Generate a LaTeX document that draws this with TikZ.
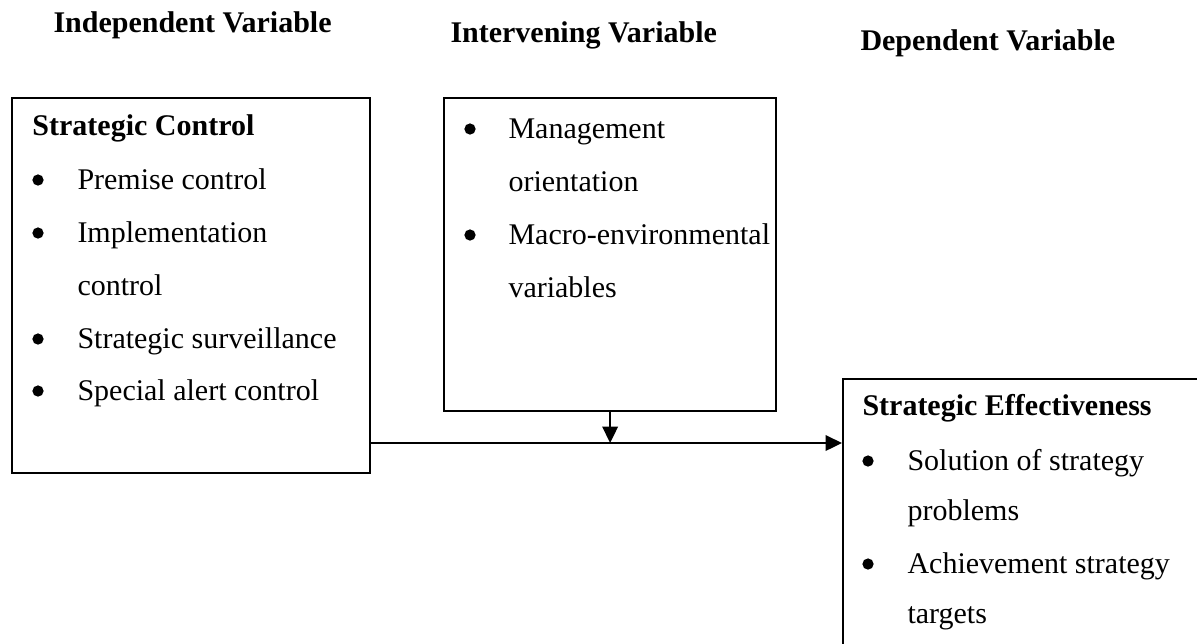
\documentclass[tikz,border=0pt]{standalone}
\usepackage{fontspec}
\setmainfont{Liberation Serif}
\usetikzlibrary{arrows.meta}
\begin{document}
\begin{tikzpicture}[x=0.4pt,y=-0.4pt,
  box/.style={draw,line width=0.9pt,rectangle,inner sep=0pt,anchor=north west},
  txt/.style={anchor=base west,inner sep=0pt,font=\fontsize{12}{14}\selectfont},
  head/.style={anchor=base west,inner sep=0pt,font=\fontsize{12}{14}\selectfont\bfseries},
  bul/.style={circle,fill,inner sep=0pt,minimum size=4.5pt},
  arr/.style={line width=0.9pt,-{Triangle[length=6.6pt,width=6.2pt]}}]
\useasboundingbox (0,0) rectangle (1197,643);
\clip (0,0) rectangle (1197,643);
% headers
\node[head] (h1) at (53,32) {Independent Variable};
\node[head] (h2) at (450,42) {Intervening Variable};
\node[head] (h3) at (860,50) {Dependent Variable};
% boxes
\node[box,minimum width=143.2pt,minimum height=150pt] (lbox) at (11,97) {};
\node[box,minimum width=132.8pt,minimum height=125.2pt] (mbox) at (443,97) {};
\node[box,minimum width=160pt,minimum height=120pt] (rbox) at (842,378) {};
% left box text
\node[head] (l0) at (32,135) {Strategic Control};
\node[bul] (lb1) at (38,180) {};
\node[txt] (l1) at (77,189) {Premise control};
\node[bul] (lb2) at (38,233) {};
\node[txt] (l2) at (77,242) {Implementation};
\node[txt] (l3) at (77,295) {control};
\node[bul] (lb3) at (38,339) {};
\node[txt] (l4) at (77,348) {Strategic surveillance};
\node[bul] (lb4) at (38,391) {};
\node[txt] (l5) at (77,400) {Special alert control};
% middle box text
\node[bul] (mb1) at (470,129) {};
\node[txt] (m1) at (508,138) {Management};
\node[txt] (m2) at (508,191) {orientation};
\node[bul] (mb2) at (470,235) {};
\node[txt] (m3) at (508,244) {Macro-environmental};
\node[txt] (m4) at (508,297) {variables};
% right box text
\node[head] (r0) at (862,415) {Strategic Effectiveness};
\node[bul] (rb1) at (868,461) {};
\node[txt] (r1) at (907,470) {Solution of strategy};
\node[txt] (r2) at (907,520) {problems};
\node[bul] (rb2) at (868,564) {};
\node[txt] (r3) at (907,573) {Achievement strategy};
\node[txt] (r4) at (907,623) {targets};
% connectors
\coordinate (hy) at (0,443);
\draw[arr] (lbox.east |- hy) -- (rbox.west |- hy);
\draw[arr] (mbox.south) -- (mbox.south |- hy);
\end{tikzpicture}
\end{document}
